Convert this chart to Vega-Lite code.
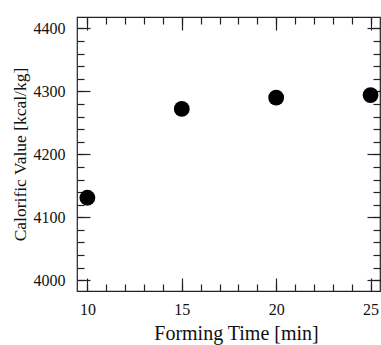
{
  "$schema": "https://vega.github.io/schema/vega-lite/v6.json",
  "width": 303,
  "height": 274,
  "autosize": {"type": "none"},
  "padding": {"left": 77, "top": 17, "right": 1, "bottom": 54},
  "background": "white",
  "data": {"values": [
    {"t": 10, "cv": 4131},
    {"t": 15, "cv": 4272},
    {"t": 20, "cv": 4290},
    {"t": 25, "cv": 4294}
  ]},
  "config": {
    "view": {"stroke": "#222", "strokeWidth": 1.2},
    "axis": {
      "labelFont": "Liberation Serif",
      "titleFont": "Liberation Serif",
      "labelFontSize": 16,
      "titleFontSize": 19,
      "titleFontWeight": "normal",
      "labelColor": "#111",
      "titleColor": "#111",
      "tickColor": "#222",
      "tickWidth": 1.2,
      "grid": false,
      "domain": false
    }
  },
  "layer": [
    {
      "mark": {"type": "circle", "size": 250, "color": "black", "opacity": 1},
      "encoding": {
        "x": {"field": "t", "type": "quantitative", "scale": {"domain": [9.45, 25.5], "nice": false, "zero": false},
          "axis": {"orient": "bottom", "values": [10, 15, 20, 25], "format": "d", "labelFont": "Liberation Serif", "labelFontSize": 16, "titleFont": "Liberation Serif", "titleFontSize": 20, "tickSize": -13, "labelPadding": 23, "title": "Forming Time [min]", "titlePadding": 6, "titleX": 159}},
        "y": {"field": "cv", "type": "quantitative", "scale": {"domain": [3983, 4418], "nice": false, "zero": false},
          "axis": {"orient": "left", "values": [4000, 4100, 4200, 4300, 4400], "format": "d", "labelFont": "Liberation Serif", "labelFontSize": 16, "titleFont": "Liberation Serif", "titleFontSize": 17.5, "tickSize": -13, "labelPadding": 25, "title": "Calorific Value [kcal/kg]", "titlePadding": 4}}
      }
    },
    {
      "mark": {"type": "circle", "size": 250, "opacity": 0},
      "encoding": {
        "x": {"field": "t", "type": "quantitative",
          "axis": {"orient": "bottom", "values": [10, 11, 12, 13, 14, 15, 16, 17, 18, 19, 20, 21, 22, 23, 24, 25], "tickSize": -7, "labels": false, "title": null}},
        "y": {"field": "cv", "type": "quantitative",
          "axis": {"orient": "left", "values": [4000, 4020, 4040, 4060, 4080, 4100, 4120, 4140, 4160, 4180, 4200, 4220, 4240, 4260, 4280, 4300, 4320, 4340, 4360, 4380, 4400], "tickSize": -7, "labels": false, "title": null}}
      }
    },
    {
      "mark": {"type": "circle", "size": 250, "opacity": 0},
      "encoding": {
        "x": {"field": "t", "type": "quantitative",
          "axis": {"orient": "top", "values": [10, 15, 20, 25], "tickSize": -13, "labels": false, "title": null}},
        "y": {"field": "cv", "type": "quantitative",
          "axis": {"orient": "right", "values": [4000, 4100, 4200, 4300, 4400], "tickSize": -13, "labels": false, "title": null}}
      }
    },
    {
      "mark": {"type": "circle", "size": 250, "opacity": 0},
      "encoding": {
        "x": {"field": "t", "type": "quantitative",
          "axis": {"orient": "top", "values": [10, 11, 12, 13, 14, 15, 16, 17, 18, 19, 20, 21, 22, 23, 24, 25], "tickSize": -7, "labels": false, "title": null}},
        "y": {"field": "cv", "type": "quantitative",
          "axis": {"orient": "right", "values": [4000, 4020, 4040, 4060, 4080, 4100, 4120, 4140, 4160, 4180, 4200, 4220, 4240, 4260, 4280, 4300, 4320, 4340, 4360, 4380, 4400], "tickSize": -7, "labels": false, "title": null}}
      }
    }
  ],
  "resolve": {"axis": {"x": "independent", "y": "independent"}}
}
